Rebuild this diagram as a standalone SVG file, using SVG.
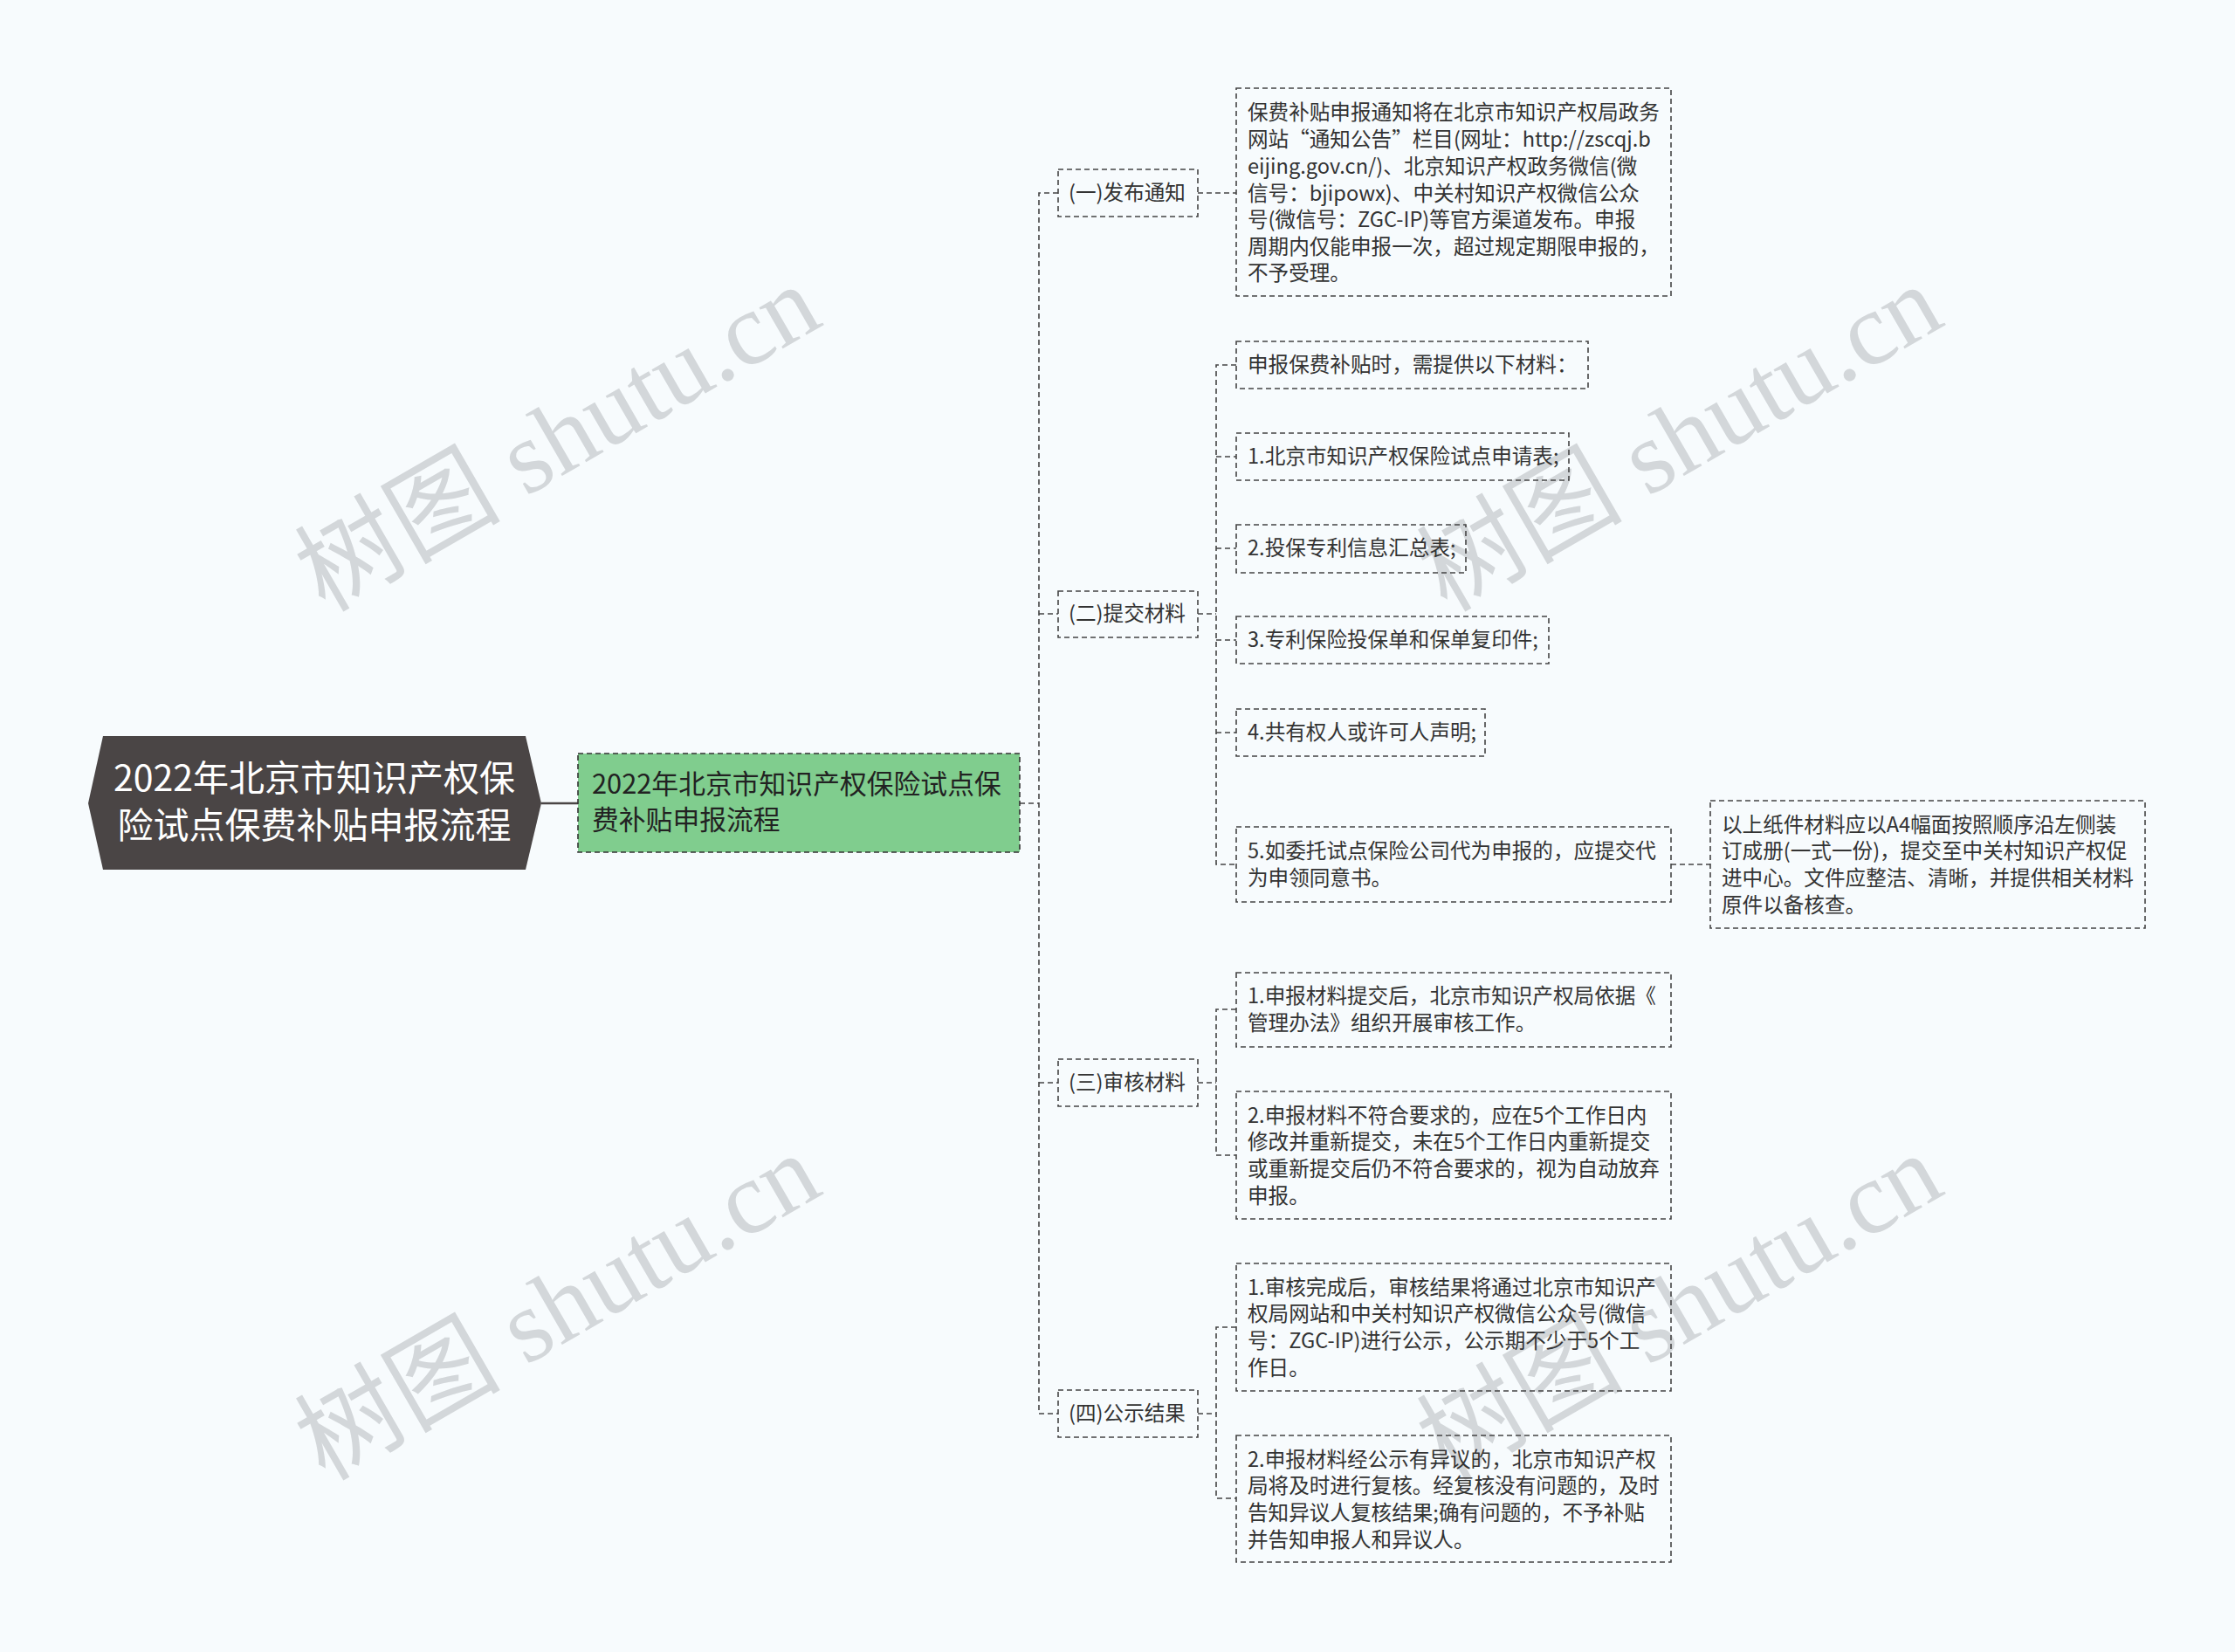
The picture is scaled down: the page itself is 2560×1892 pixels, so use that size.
<svg xmlns="http://www.w3.org/2000/svg" width="2560" height="1892" viewBox="0 0 2560 1892">
<defs>
<style>
.bg{fill:#f7fbfd}
.wm{font-family:"Liberation Serif","Noto Sans CJK SC",serif;font-size:118px;fill:#d3d7da}
.box{fill:none;stroke:#444;stroke-width:1.6;stroke-dasharray:6,4}
.t{font-family:"Noto Sans CJK SC","Noto Sans",sans-serif;font-size:23.6px;fill:#333}
.l1{font-family:"Noto Sans CJK SC","Noto Sans",sans-serif;font-size:23.6px;fill:#333}
.conn{fill:none;stroke:#444;stroke-width:1.6;stroke-dasharray:6,4}
</style>
</defs>
<rect class="bg" x="0" y="0" width="2560" height="1892"/>
<g id="watermarks">
<text class="wm" x="372" y="702" transform="rotate(-30 372 702)">树图 shutu.cn</text>
<text class="wm" x="1657" y="702" transform="rotate(-30 1657 702)">树图 shutu.cn</text>
<text class="wm" x="372" y="1697" transform="rotate(-30 372 1697)">树图 shutu.cn</text>
<text class="wm" x="1657" y="1697" transform="rotate(-30 1657 1697)">树图 shutu.cn</text>
</g>
<g id="connectors">
<line x1="620" y1="920" x2="662" y2="920" stroke="#4a4545" stroke-width="2.5"/>
<path class="conn" d="M1168,920 H1190"/>
<path class="conn" d="M1212,221 H1190 V1619 H1212"/>
<path class="conn" d="M1190,703 H1212 M1190,1240 H1212"/>
<path class="conn" d="M1372,221 H1416"/>
<path class="conn" d="M1372,703 H1393"/>
<path class="conn" d="M1416,418 H1393 V990 H1416"/>
<path class="conn" d="M1393,523 H1416 M1393,628 H1416 M1393,733 H1416 M1393,839 H1416"/>
<path class="conn" d="M1914,990 H1959"/>
<path class="conn" d="M1372,1240 H1393"/>
<path class="conn" d="M1416,1156 H1393 V1323 H1416"/>
<path class="conn" d="M1372,1619 H1393"/>
<path class="conn" d="M1416,1520 H1393 V1716 H1416"/>
</g>
<g id="root">
<polygon points="101,920 118,843 602,843 620,920 602,996 118,996" fill="#4a4545"/>
<text text-anchor="middle" font-family="Noto Sans CJK SC, sans-serif" font-size="41" fill="#ffffff"><tspan x="360" y="906">2022年北京市知识产权保</tspan><tspan x="360" y="960">险试点保费补贴申报流程</tspan></text>
</g>
<g id="main">
<rect x="662" y="863" width="506" height="113" fill="#80cd8e" stroke="#333" stroke-width="1.6" stroke-dasharray="6,4"/>
<text font-family="Noto Sans CJK SC, sans-serif" font-size="30.8" fill="#222"><tspan x="678" y="909">2022年北京市知识产权保险试点保</tspan><tspan x="678" y="950">费补贴申报流程</tspan></text>
</g>
<g id="n1">
<rect class="box" x="1212" y="194" width="160" height="54"/>
<text class="l1" x="1224" y="229">(一)发布通知</text>
</g>
<g id="n2">
<rect class="box" x="1212" y="677" width="160" height="53"/>
<text class="l1" x="1224" y="711">(二)提交材料</text>
</g>
<g id="n3">
<rect class="box" x="1212" y="1213" width="160" height="54"/>
<text class="l1" x="1224" y="1248">(三)审核材料</text>
</g>
<g id="n4">
<rect class="box" x="1212" y="1592" width="160" height="54"/>
<text class="l1" x="1224" y="1627">(四)公示结果</text>
</g>
<g id="a1">
<rect class="box" x="1416" y="101" width="498" height="238"/>
<text class="t"><tspan x="1429" y="137">保费补贴申报通知将在北京市知识产权局政务</tspan><tspan x="1429" y="168">网站“通知公告”栏目(网址：http://zscqj.b</tspan><tspan x="1429" y="199">eijing.gov.cn/)、北京知识产权政务微信(微</tspan><tspan x="1429" y="230">信号：bjipowx)、中关村知识产权微信公众</tspan><tspan x="1429" y="260">号(微信号：ZGC-IP)等官方渠道发布。申报</tspan><tspan x="1429" y="291">周期内仅能申报一次，超过规定期限申报的，</tspan><tspan x="1429" y="321">不予受理。</tspan></text>
</g>
<g id="b1">
<rect class="box" x="1416" y="391" width="403" height="54"/>
<text class="t" x="1429" y="426">申报保费补贴时，需提供以下材料：</text>
</g>
<g id="b2">
<rect class="box" x="1416" y="496" width="381" height="54"/>
<text class="t" x="1429" y="531">1.北京市知识产权保险试点申请表;</text>
</g>
<g id="b3">
<rect class="box" x="1416" y="601" width="263" height="55"/>
<text class="t" x="1429" y="636">2.投保专利信息汇总表;</text>
</g>
<g id="b4">
<rect class="box" x="1416" y="706" width="358" height="54"/>
<text class="t" x="1429" y="741">3.专利保险投保单和保单复印件;</text>
</g>
<g id="b5">
<rect class="box" x="1416" y="812" width="285" height="54"/>
<text class="t" x="1429" y="847">4.共有权人或许可人声明;</text>
</g>
<g id="b6">
<rect class="box" x="1416" y="947" width="498" height="86"/>
<text class="t"><tspan x="1429" y="983">5.如委托试点保险公司代为申报的，应提交代</tspan><tspan x="1429" y="1014">为申领同意书。</tspan></text>
</g>
<g id="b7">
<rect class="box" x="1959" y="917" width="498" height="146"/>
<text class="t"><tspan x="1972" y="953">以上纸件材料应以A4幅面按照顺序沿左侧装</tspan><tspan x="1972" y="983">订成册(一式一份)，提交至中关村知识产权促</tspan><tspan x="1972" y="1014">进中心。文件应整洁、清晰，并提供相关材料</tspan><tspan x="1972" y="1045">原件以备核查。</tspan></text>
</g>
<g id="c1">
<rect class="box" x="1416" y="1114" width="498" height="85"/>
<text class="t"><tspan x="1429" y="1149">1.申报材料提交后，北京市知识产权局依据《</tspan><tspan x="1429" y="1180">管理办法》组织开展审核工作。</tspan></text>
</g>
<g id="c2">
<rect class="box" x="1416" y="1250" width="498" height="146"/>
<text class="t"><tspan x="1429" y="1286">2.申报材料不符合要求的，应在5个工作日内</tspan><tspan x="1429" y="1316">修改并重新提交，未在5个工作日内重新提交</tspan><tspan x="1429" y="1347">或重新提交后仍不符合要求的，视为自动放弃</tspan><tspan x="1429" y="1378">申报。</tspan></text>
</g>
<g id="d1">
<rect class="box" x="1416" y="1447" width="498" height="146"/>
<text class="t"><tspan x="1429" y="1483">1.审核完成后，审核结果将通过北京市知识产</tspan><tspan x="1429" y="1513">权局网站和中关村知识产权微信公众号(微信</tspan><tspan x="1429" y="1544">号：ZGC-IP)进行公示，公示期不少于5个工</tspan><tspan x="1429" y="1575">作日。</tspan></text>
</g>
<g id="d2">
<rect class="box" x="1416" y="1644" width="498" height="145"/>
<text class="t"><tspan x="1429" y="1680">2.申报材料经公示有异议的，北京市知识产权</tspan><tspan x="1429" y="1710">局将及时进行复核。经复核没有问题的，及时</tspan><tspan x="1429" y="1741">告知异议人复核结果;确有问题的，不予补贴</tspan><tspan x="1429" y="1772">并告知申报人和异议人。</tspan></text>
</g>
</svg>
